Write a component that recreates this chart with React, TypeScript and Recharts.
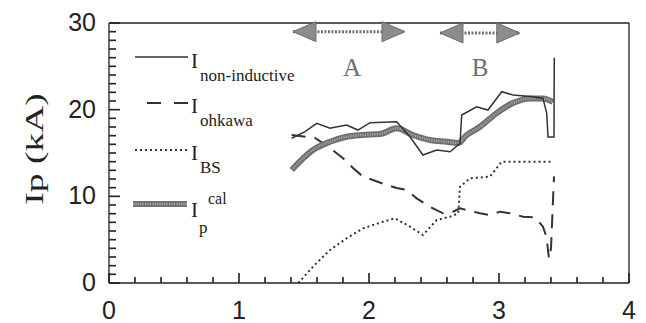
import React from 'react';
import { LineChart, Line, XAxis, YAxis, ReferenceLine, ReferenceDot, Legend } from 'recharts';

// ---- data ----
const nonInductiveX = [1.405, 1.508, 1.598, 1.70, 1.828, 1.915, 2.008, 2.213, 2.315, 2.415, 2.521, 2.623, 2.70, 2.713, 2.828, 2.915, 3.021, 3.108, 3.262, 3.338, 3.367, 3.377, 3.408, 3.423, 3.425];
const nonInductiveY = [16.7, 17.46, 18.43, 17.85, 18.23, 17.65, 18.5, 18.61, 16.88, 14.77, 15.35, 15.15, 16.12, 19.38, 20.34, 19.96, 22.07, 21.69, 21.5, 21.3, 19.6, 16.85, 16.85, 16.85, 26.0];

const ohkawaX = [1.405, 1.585, 1.70, 1.80, 1.877, 1.954, 2.03, 2.136, 2.213, 2.29, 2.367, 2.469, 2.569, 2.646, 2.70, 2.752, 2.854, 2.93, 3.008, 3.085, 3.185, 3.277, 3.338, 3.365, 3.385, 3.40, 3.423];
const ohkawaY = [17.08, 16.73, 15.58, 14.39, 13.27, 12.27, 11.88, 11.31, 10.96, 10.73, 9.77, 8.8, 8.04, 8.23, 8.62, 8.42, 8.04, 7.85, 8.23, 8.04, 7.65, 7.58, 6.5, 5.3, 2.8, 4.0, 12.3];

const bsX = [1.456, 1.569, 1.70, 1.828, 1.954, 2.03, 2.108, 2.20, 2.315, 2.415, 2.521, 2.623, 2.687, 2.70, 2.777, 2.93, 3.021, 3.415];
const bsY = [0, 1.88, 3.81, 5.16, 6.31, 6.69, 7.07, 7.47, 6.5, 5.54, 7.27, 7.65, 8.04, 11.11, 12.08, 12.27, 14.0, 14.0];

const calX = [1.405, 1.569, 1.70, 1.828, 1.954, 2.085, 2.213, 2.338, 2.469, 2.598, 2.685, 2.752, 2.854, 2.982, 3.108, 3.238, 3.338, 3.415];
const calY = [13.04, 15.35, 16.3, 16.88, 17.08, 17.19, 17.85, 17.08, 16.5, 16.3, 16.15, 17.08, 18.03, 19.6, 20.77, 21.3, 21.3, 20.9];

const xTicks = [0, 0.2, 0.4, 0.6, 0.8, 1, 1.2, 1.4, 1.6, 1.8, 2, 2.2, 2.4, 2.6, 2.8, 3, 3.2, 3.4, 3.6, 3.8, 4];
const yTicks = [0, 1, 2, 3, 4, 5, 6, 7, 8, 9, 10, 11, 12, 13, 14, 15, 16, 17, 18, 19, 20, 21, 22, 23, 24, 25, 26, 27, 28, 29, 30];

const regionNames = ['A', 'B'];
const regionStart = [1.415, 2.546];
const regionEnd = [2.277, 3.16];
const regionArrowY = [29.0, 28.85];
const regionLabelX = [1.869, 2.854];
const regionLabelY = [24.9, 24.9];

const zip = (xs: number[], ys: number[]) => xs.map((x, i) => ({ x, y: ys[i] }));

const SANS = "'Liberation Sans', Arial, Helvetica, sans-serif";
const SERIF = "'Liberation Serif', 'Times New Roman', serif";
const INK = '#222222';
const TW = 1.6;

const isMajor = (v: number) => Math.abs(v - Math.round(v)) < 1e-6;

const BottomTick = (props: any) => {
  const x = Number(props.x);
  const y = Number(props.y);
  const v = props.payload.value;
  const major = isMajor(v);
  const len = major ? 10 : 6;
  return (
    <g>
      <rect x={x - TW / 2} y={y - len} width={TW} height={len} fill={INK} />
      {major && (
        <text x={x} y={y + 27} textAnchor="middle" dominantBaseline="central" fontSize={25} fontFamily={SANS} style={{ fontFamily: SANS }} fill={INK}>
          {Math.round(v)}
        </text>
      )}
    </g>
  );
};

const TopTick = (props: any) => {
  const x = Number(props.x);
  const y = Number(props.y);
  const len = isMajor(props.payload.value) ? 10 : 6;
  return <rect x={x - TW / 2} y={y} width={TW} height={len} fill={INK} />;
};

const LeftTick = (props: any) => {
  const x = Number(props.x);
  const y = Number(props.y);
  const v = props.payload.value;
  const major = v % 10 === 0;
  const len = major ? 11 : 7;
  return (
    <g>
      <rect x={x} y={y - TW / 2} width={len} height={TW} fill={INK} />
      {major && (
        <text x={x - 13} y={y - 1} textAnchor="end" dominantBaseline="central" fontSize={25} fontFamily={SANS} style={{ fontFamily: SANS }} fill={INK}>
          {v}
        </text>
      )}
    </g>
  );
};

const RightTick = (props: any) => {
  const x = Number(props.x);
  const y = Number(props.y);
  const len = props.payload.value % 10 === 0 ? 10 : 6;
  return <rect x={x - len} y={y - TW / 2} width={len} height={TW} fill={INK} />;
};

const YLabel = (props: any) => {
  const vb = props.viewBox || {};
  const cx = (vb.x ?? 108) + (vb.width ?? 1) - 74;
  const cy = (vb.y ?? 23) + (vb.height ?? 260) / 2 - 4;
  return (
    <text
      x={0}
      y={0}
      transform={`translate(${cx} ${cy}) rotate(-90) scale(1.5 1)`}
      textAnchor="middle"
      dominantBaseline="central"
      fontSize={25}
      fontFamily={SERIF}
      style={{ fontFamily: SERIF }}
      fill={INK}
    >
      Ip (kA)
    </text>
  );
};

const LeftHead = (p: any) => (
  <polygon
    points={`${p.cx},${p.cy} ${p.cx + 23},${p.cy - 10} ${p.cx + 23},${p.cy + 10}`}
    fill="#8c8c8c"
    stroke="#6a6a6a"
    strokeWidth={1}
  />
);
const RightHead = (p: any) => (
  <polygon
    points={`${p.cx},${p.cy} ${p.cx - 23},${p.cy - 10} ${p.cx - 23},${p.cy + 10}`}
    fill="#8c8c8c"
    stroke="#6a6a6a"
    strokeWidth={1}
  />
);

const makeRegionLabel = (txt: string) => (p: any) => (
  <text x={p.cx} y={p.cy} textAnchor="middle" dominantBaseline="central" fontSize={25} fontFamily={SERIF} style={{ fontFamily: SERIF }} fill="#6f6f6f">
    {txt}
  </text>
);

const T = (props: any) => (
  <text {...props} fontFamily={SERIF} style={{ fontFamily: SERIF }} fill={INK} />
);

const LegendBox = () => (
  <svg width={646} height={323} style={{ position: 'absolute', left: 0, top: 0, pointerEvents: 'none' }}>
    <line x1={135} y1={57} x2={188} y2={57} stroke="#333" strokeWidth={1.5} />
    <T x={191} y={68} fontSize={21}>I</T>
    <T x={200} y={81} fontSize={17}>non-inductive</T>
    <line x1={147} y1={103} x2={188} y2={103} stroke="#333" strokeWidth={2} strokeDasharray="14 13" />
    <T x={191} y={113} fontSize={21}>I</T>
    <T x={200} y={126} fontSize={17}>ohkawa</T>
    <line x1={135} y1={150} x2={188} y2={150} stroke="#333" strokeWidth={2} strokeDasharray="2 3" />
    <T x={191} y={160} fontSize={21}>I</T>
    <T x={200} y={173} fontSize={17}>BS</T>
    <line x1={133} y1={204} x2={187} y2={204} stroke="#6e6e6e" strokeWidth={6} />
    <line x1={133} y1={204} x2={187} y2={204} stroke="#a8a8a8" strokeWidth={2.5} strokeDasharray="1.2 1.2" />
    <T x={191} y={217} fontSize={21}>I</T>
    <T x={208} y={204} fontSize={16}>cal</T>
    <T x={199} y={233} fontSize={17}>p</T>
  </svg>
);

const frameLine = { stroke: INK, strokeWidth: 1.3 };

export default function App() {
  const calData = zip(calX, calY);
  return (
    <div style={{ position: 'absolute', left: 0, top: 0, width: 646, height: 323, background: '#fff' }}>
      <LineChart width={646} height={323} margin={{ top: 22, right: 16, bottom: 39, left: 108 }}>
        <XAxis
          xAxisId="b"
          type="number"
          dataKey="x"
          domain={[0, 4]}
          ticks={xTicks}
          interval={0}
          height={1}
          tickSize={0}
          tickMargin={0}
          tickLine={false}
          tick={BottomTick}
          axisLine={frameLine}
        />
        <XAxis
          xAxisId="t"
          orientation="top"
          type="number"
          domain={[0, 4]}
          ticks={xTicks}
          interval={0}
          height={1}
          tickSize={0}
          tickMargin={0}
          tickLine={false}
          tick={TopTick}
          axisLine={frameLine}
        />
        <YAxis
          yAxisId="l"
          type="number"
          domain={[0, 30]}
          ticks={yTicks}
          interval={0}
          width={1}
          tickSize={0}
          tickMargin={0}
          tickLine={false}
          tick={LeftTick}
          axisLine={frameLine}
          label={YLabel}
        />
        <YAxis
          yAxisId="r"
          orientation="right"
          type="number"
          domain={[0, 30]}
          ticks={yTicks}
          interval={0}
          width={1}
          tickSize={0}
          tickMargin={0}
          tickLine={false}
          tick={RightTick}
          axisLine={frameLine}
        />

        {regionNames.map((n, i) => (
          <ReferenceLine
            key={`shaft-${n}`}
            xAxisId="b"
            yAxisId="l"
            segment={[{ x: regionStart[i], y: regionArrowY[i] }, { x: regionEnd[i], y: regionArrowY[i] }]}
            stroke="#707070"
            strokeWidth={3}
            strokeDasharray="2 1.5"
          />
        ))}
        {regionNames.map((n, i) => (
          <ReferenceDot key={`lh-${n}`} xAxisId="b" yAxisId="l" x={regionStart[i]} y={regionArrowY[i]} r={10} shape={LeftHead} />
        ))}
        {regionNames.map((n, i) => (
          <ReferenceDot key={`rh-${n}`} xAxisId="b" yAxisId="l" x={regionEnd[i]} y={regionArrowY[i]} r={10} shape={RightHead} />
        ))}
        {regionNames.map((n, i) => (
          <ReferenceDot key={`lab-${n}`} xAxisId="b" yAxisId="l" x={regionLabelX[i]} y={regionLabelY[i]} r={10} shape={makeRegionLabel(n)} />
        ))}

        <Line xAxisId="b" yAxisId="l" data={zip(bsX, bsY)} dataKey="y" name="I_BS" type="linear" stroke="#333" strokeWidth={2} strokeDasharray="2 3" dot={false} activeDot={false} isAnimationActive={false} />
        <Line xAxisId="b" yAxisId="l" data={zip(ohkawaX, ohkawaY)} dataKey="y" name="I_ohkawa" type="linear" stroke="#333" strokeWidth={2} strokeDasharray="14 9" dot={false} activeDot={false} isAnimationActive={false} />
        <Line xAxisId="b" yAxisId="l" data={calData} dataKey="y" name="Ip_cal" type="monotone" stroke="#6e6e6e" strokeWidth={6} dot={false} activeDot={false} isAnimationActive={false} />
        <Line xAxisId="b" yAxisId="l" data={calData} dataKey="y" name="Ip_cal texture" type="monotone" stroke="#a8a8a8" strokeWidth={2.5} strokeDasharray="1.2 1.2" dot={false} activeDot={false} legendType="none" isAnimationActive={false} />
        <Line xAxisId="b" yAxisId="l" data={zip(nonInductiveX, nonInductiveY)} dataKey="y" name="I_non-inductive" type="linear" stroke="#333" strokeWidth={1.5} dot={false} activeDot={false} isAnimationActive={false} />
        <Legend
          layout="vertical"
          align="center"
          verticalAlign="middle"
          wrapperStyle={{ left: 0, top: 0, width: 646, height: 323, pointerEvents: 'none' }}
          content={() => <LegendBox />}
        />
      </LineChart>
    </div>
  );
}
